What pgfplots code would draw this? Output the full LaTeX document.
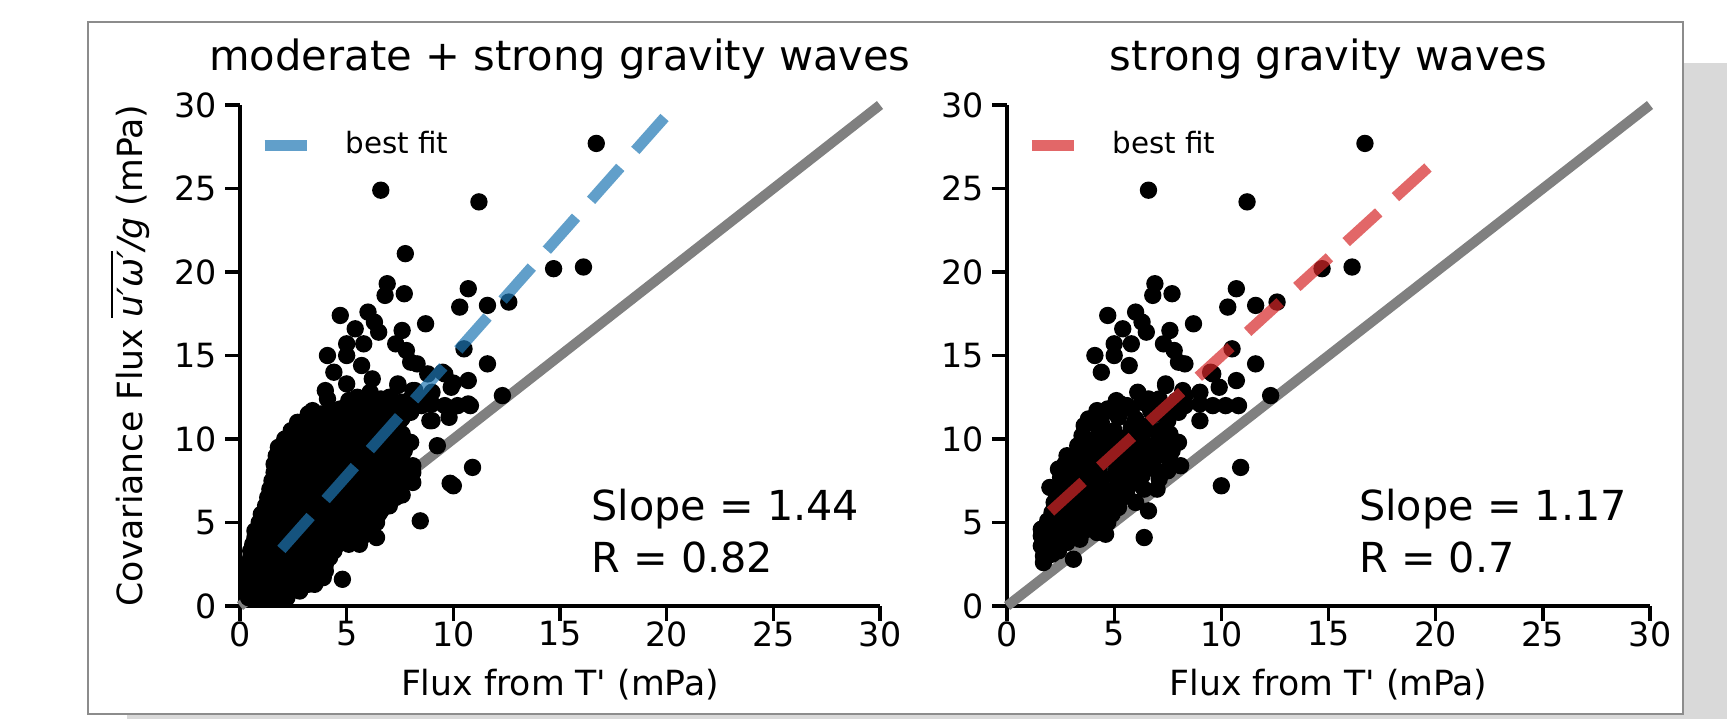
\documentclass[border=0pt]{standalone}
\usepackage{pgfplots}
\pgfplotsset{compat=1.18}
\usepackage{pgfplotstable}
\usepackage{fontspec}
\setmainfont{DejaVu Sans}

\definecolor{tabblue}{RGB}{31,119,180}
\definecolor{tabred}{RGB}{214,39,40}
\definecolor{shadowgray}{RGB}{217,217,217}
\definecolor{framegray}{RGB}{140,140,140}

% strong gravity wave events (shown in both panels)
\pgfplotstableread[row sep=\\]{
x y\\
16.7 27.7\\ 6.6 24.9\\ 11.2 24.2\\ 14.7 20.2\\ 16.1 20.3\\ 12.6 18.2\\
10.7 19.0\\ 10.3 17.9\\ 11.6 18.0\\ 6.9 19.3\\ 6.8 18.6\\ 7.7 18.7\\
4.7 17.4\\ 6.0 17.6\\ 6.3 17.0\\ 5.4 16.6\\ 6.5 16.4\\ 7.6 16.5\\ 8.7 16.9\\
5.0 15.7\\ 5.8 15.7\\ 7.3 15.7\\ 4.1 15.0\\ 5.0 15.0\\ 5.7 14.4\\ 4.4 14.0\\
7.8 15.3\\ 8.0 14.6\\ 8.3 14.5\\ 10.5 15.4\\ 11.6 14.5\\ 9.5 14.0\\ 10.7 13.5\\
9.9 13.1\\ 7.4 13.2\\ 9.0 12.8\\ 12.3 12.6\\ 8.3 12.6\\ 9.0 12.1\\ 9.6 12.0\\
10.2 12.0\\ 10.8 12.0\\ 8.3 12.0\\ 6.1 12.8\\ 6.6 12.4\\ 7.1 12.4\\ 5.1 12.3\\
4.7 11.8\\ 5.6 12.0\\ 9.0 11.1\\ 8.0 9.8\\ 10.0 7.2\\ 10.9 8.3\\ 6.4 4.1\\
6.6 5.7\\ 3.1 2.8\\ 1.7 2.6\\ 8.2 12.9\\ 9.6 13.9\\ 7.4 13.3\\
1.7 3.0\\ 2.1 3.1\\ 2.4 3.3\\
1.6 3.6\\ 2.0 3.7\\ 2.4 3.5\\ 2.8 3.8\\
1.6 4.2\\ 2.1 4.0\\ 2.5 4.3\\ 3.0 4.1\\ 3.4 4.0\\
1.6 4.6\\ 2.0 4.8\\ 2.6 4.6\\ 3.1 4.7\\ 3.6 4.5\\ 4.2 4.4\\ 4.6 4.3\\
1.9 5.1\\ 2.4 5.2\\ 2.9 5.0\\ 3.4 5.3\\ 4.0 5.1\\ 4.7 5.0\\ 5.2 5.9\\
2.1 5.6\\ 2.6 5.7\\ 3.2 5.5\\ 3.7 5.8\\ 4.3 5.6\\ 4.9 5.5\\
2.2 6.2\\ 2.8 6.0\\ 3.3 6.3\\ 3.9 6.1\\ 4.5 6.2\\ 5.3 6.4\\ 6.0 6.2\\
2.3 6.9\\ 2.9 6.6\\ 3.5 6.8\\ 4.1 6.6\\ 4.8 6.7\\ 5.6 6.6\\
2.0 7.1\\ 2.7 7.3\\ 3.2 7.1\\ 3.8 7.4\\ 4.4 7.2\\ 5.1 7.1\\ 5.8 7.3\\ 6.4 7.0\\ 7.0 7.0\\
2.5 7.7\\ 3.1 7.6\\ 3.7 7.9\\ 4.3 7.7\\ 5.0 7.8\\ 5.7 7.6\\ 6.3 7.8\\ 7.1 7.6\\
2.4 8.2\\ 3.0 8.1\\ 3.6 8.3\\ 4.3 8.2\\ 5.1 8.1\\ 5.6 8.3\\ 6.2 8.0\\ 6.9 8.2\\ 7.5 8.1\\ 8.1 8.4\\
2.7 8.5\\ 3.4 8.7\\ 4.0 8.6\\ 4.7 8.8\\ 5.4 8.6\\ 6.1 8.7\\ 6.8 8.5\\ 7.6 8.7\\
2.8 9.0\\ 3.6 9.2\\ 4.2 9.0\\ 4.9 9.3\\ 5.6 9.1\\ 6.3 9.2\\ 7.0 9.0\\ 7.7 9.3\\
3.3 9.6\\ 4.0 9.8\\ 4.6 9.5\\ 5.3 9.7\\ 6.0 9.9\\ 6.8 9.6\\ 7.4 9.7\\
3.5 10.2\\ 4.1 10.0\\ 4.8 10.3\\ 5.6 10.1\\ 6.3 10.2\\ 7.0 10.4\\ 7.6 10.3\\
3.6 10.8\\ 4.3 10.6\\ 5.0 10.5\\ 5.8 10.7\\ 6.6 10.8\\ 7.3 10.6\\
3.8 11.2\\ 4.4 11.0\\ 5.2 11.3\\ 6.0 11.2\\ 6.8 11.4\\ 7.5 11.1\\
4.2 11.7\\ 5.0 11.6\\ 5.8 11.8\\ 6.7 11.7\\ 7.4 11.9\\ 8.0 11.6\\
5.3 12.1\\ 6.3 12.2\\ 7.2 12.0\\ 7.9 12.3\\
}\strongpts

% moderate gravity wave events (left panel only)
\pgfplotstableread[row sep=\\]{
x y\\
7.75 21.1\\ 9.25 9.6\\ 8.45 5.1\\ 4.8 1.6\\ 3.4 11.7\\ 4.1 12.4\\ 4.0 12.9\\
5.0 13.3\\ 6.2 13.6\\ 8.8 13.9\\ 9.8 11.3\\ 8.1 12.9\\ 8.9 11.1\\ 7.6 11.25\\
5.5 12.5\\ 6.0 12.4\\ 6.5 12.3\\ 7.0 12.5\\ 7.6 12.2\\ 8.0 12.3\\ 8.5 12.0\\
8.7 12.1\\ 8.1 7.4\\ 7.6 6.65\\ 9.85 7.35\\ 8.1 8.0\\ 10.0 13.35\\ 10.7 12.1\\
0.4 0.5\\ 0.7 0.5\\ 1.0 0.5\\ 1.3 0.5\\ 1.6 0.5\\ 1.9 0.5\\ 2.2 0.5\\
0.4 0.9\\ 0.7 0.9\\ 1.0 0.9\\ 1.3 0.9\\ 1.6 0.9\\ 2.0 0.9\\ 2.4 0.9\\ 2.8 0.9\\
0.4 1.3\\ 0.8 1.3\\ 1.2 1.3\\ 1.6 1.3\\ 2.0 1.3\\ 2.4 1.3\\ 2.8 1.3\\ 3.2 1.3\\ 3.5 1.3\\
0.4 1.7\\ 0.8 1.7\\ 1.2 1.7\\ 1.6 1.7\\ 2.0 1.7\\ 2.4 1.7\\ 2.8 1.7\\ 3.2 1.7\\ 3.6 1.7\\ 3.9 1.7\\
0.4 2.1\\ 0.8 2.1\\ 1.2 2.1\\ 1.6 2.1\\ 2.0 2.1\\ 2.4 2.1\\ 2.8 2.1\\ 3.2 2.1\\ 3.6 2.1\\ 4.0 2.1\\
0.4 2.5\\ 0.8 2.5\\ 1.2 2.5\\ 1.6 2.5\\ 2.0 2.5\\ 2.5 2.5\\ 3.0 2.5\\ 3.5 2.5\\ 4.0 2.5\\
0.5 2.9\\ 0.9 2.9\\ 1.3 2.9\\ 1.8 2.9\\ 2.3 2.9\\ 2.8 2.9\\ 3.3 2.9\\ 3.8 2.9\\ 4.2 2.9\\
0.5 3.3\\ 1.0 3.3\\ 1.4 3.3\\ 1.9 3.3\\ 2.4 3.3\\ 2.9 3.3\\ 3.4 3.3\\ 3.9 3.3\\ 4.4 3.3\\
0.6 3.7\\ 1.1 3.7\\ 1.6 3.7\\ 2.1 3.7\\ 2.6 3.7\\ 3.1 3.7\\ 3.6 3.7\\ 4.1 3.7\\ 4.6 3.7\\ 5.1 3.7\\ 5.6 3.7\\
0.7 4.1\\ 1.2 4.1\\ 1.7 4.1\\ 2.2 4.1\\ 2.7 4.1\\ 3.2 4.1\\ 3.7 4.1\\ 4.2 4.1\\ 4.7 4.1\\ 5.2 4.1\\ 5.7 4.1\\
0.7 4.5\\ 1.2 4.5\\ 1.7 4.5\\ 2.2 4.5\\ 2.7 4.5\\ 3.2 4.5\\ 3.7 4.5\\ 4.2 4.5\\ 4.7 4.5\\ 5.2 4.5\\ 5.7 4.5\\ 6.0 4.5\\
0.9 5.0\\ 1.4 5.0\\ 1.9 5.0\\ 2.4 5.0\\ 2.9 5.0\\ 3.4 5.0\\ 3.9 5.0\\ 4.4 5.0\\ 4.9 5.0\\ 5.4 5.0\\ 5.9 5.0\\ 6.4 5.0\\
1.0 5.5\\ 1.5 5.5\\ 2.0 5.5\\ 2.5 5.5\\ 3.0 5.5\\ 3.5 5.5\\ 4.0 5.5\\ 4.5 5.5\\ 5.0 5.5\\ 5.5 5.5\\ 6.0 5.5\\ 6.5 5.5\\
1.2 6.0\\ 1.7 6.0\\ 2.2 6.0\\ 2.7 6.0\\ 3.2 6.0\\ 3.7 6.0\\ 4.2 6.0\\ 4.7 6.0\\ 5.2 6.0\\ 5.7 6.0\\ 6.2 6.0\\ 6.7 6.0\\ 7.0 6.0\\
1.3 6.5\\ 1.8 6.5\\ 2.3 6.5\\ 2.8 6.5\\ 3.3 6.5\\ 3.8 6.5\\ 4.3 6.5\\ 4.8 6.5\\ 5.3 6.5\\ 5.8 6.5\\ 6.3 6.5\\ 6.8 6.5\\ 7.3 6.5\\
1.4 7.0\\ 1.9 7.0\\ 2.4 7.0\\ 2.9 7.0\\ 3.4 7.0\\ 3.9 7.0\\ 4.4 7.0\\ 4.9 7.0\\ 5.4 7.0\\ 5.9 7.0\\ 6.4 7.0\\ 6.9 7.0\\ 7.5 7.0\\
1.5 7.5\\ 2.0 7.5\\ 2.5 7.5\\ 3.0 7.5\\ 3.5 7.5\\ 4.0 7.5\\ 4.5 7.5\\ 5.0 7.5\\ 5.5 7.5\\ 6.0 7.5\\ 6.5 7.5\\ 7.0 7.5\\ 7.6 7.5\\
1.6 8.0\\ 2.1 8.0\\ 2.6 8.0\\ 3.1 8.0\\ 3.6 8.0\\ 4.1 8.0\\ 4.6 8.0\\ 5.1 8.0\\ 5.6 8.0\\ 6.1 8.0\\ 6.6 8.0\\ 7.1 8.0\\ 7.6 8.0\\
1.6 8.5\\ 2.1 8.5\\ 2.6 8.5\\ 3.1 8.5\\ 3.6 8.5\\ 4.1 8.5\\ 4.6 8.5\\ 5.1 8.5\\ 5.6 8.5\\ 6.1 8.5\\ 6.6 8.5\\ 7.1 8.5\\ 7.7 8.5\\
1.7 9.0\\ 2.2 9.0\\ 2.7 9.0\\ 3.2 9.0\\ 3.7 9.0\\ 4.2 9.0\\ 4.7 9.0\\ 5.2 9.0\\ 5.7 9.0\\ 6.2 9.0\\ 6.7 9.0\\ 7.3 9.0\\
1.8 9.5\\ 2.3 9.5\\ 2.9 9.5\\ 3.5 9.5\\ 4.0 9.5\\ 4.5 9.5\\ 5.0 9.5\\ 5.5 9.5\\ 6.0 9.5\\ 6.5 9.5\\ 7.0 9.5\\ 7.5 9.5\\
2.1 10.0\\ 2.7 10.0\\ 3.3 10.0\\ 3.9 10.0\\ 4.5 10.0\\ 5.1 10.0\\ 5.7 10.0\\ 6.3 10.0\\ 6.9 10.0\\ 7.5 10.0\\
2.4 10.5\\ 3.0 10.5\\ 3.6 10.5\\ 4.2 10.5\\ 4.8 10.5\\ 5.4 10.5\\ 6.0 10.5\\ 6.6 10.5\\ 7.2 10.5\\
2.7 11.0\\ 3.3 11.0\\ 3.9 11.0\\ 4.5 11.0\\ 5.1 11.0\\ 5.7 11.0\\ 6.3 11.0\\ 6.9 11.0\\
3.2 11.5\\ 3.8 11.5\\ 4.4 11.5\\ 5.0 11.5\\ 5.6 11.5\\ 6.2 11.5\\ 6.8 11.5\\
}\moderatepts

\tikzset{annot/.style={anchor=base west, inner sep=0pt, font=\fontsize{12.4}{14}\selectfont}}

\pgfplotsset{
  fluxaxis/.style={
    scale only axis, height=150.3pt,
    xmin=0, xmax=30, ymin=0, ymax=30,
    axis x line*=bottom, axis y line*=left,
    axis line style={line width=1.2pt, black},
    xtick={0,5,...,30}, ytick={0,5,...,30},
    tick align=outside, major tick length=4.5pt,
    tick style={line width=1pt, black},
    ticklabel style={font=\fontsize{10}{12}\selectfont, inner sep=0pt},
    yticklabel style={xshift=-2.3pt},
    /pgf/number format/assume math mode=true,
    clip=false, clip marker paths=true,
    title style={font=\fontsize{12.5}{15}\selectfont, at={(axis description cs:0.5,1)}, anchor=base, yshift=4.5pt},
    xlabel={Flux from T\textquotesingle{} (mPa)},
    xlabel style={font=\fontsize{10.4}{12}\selectfont, at={(axis description cs:0.5,0)}, anchor=base, yshift=-26.7pt},
    legend style={draw=none, fill=none, inner sep=0pt, outer sep=0pt,
      font=\fontsize{8.8}{10}\selectfont, anchor=west},
  },
  dots/.style={only marks, mark=*, mark size=2.4pt, mark options={fill=black, draw=none}},
  diag/.style={draw=gray, line width=3pt},
  fit/.style={draw=#1, draw opacity=0.7, line width=3.3pt, dash pattern=on 13.2pt off 6.8pt,
    legend image code/.code={\draw[solid, draw=#1, draw opacity=0.7, line width=3.3pt] (0pt,0pt) -- (12.7pt,0pt); \path[draw=none] (0pt,0pt) -- (22.2pt,0pt);}},
}

\begin{document}
\begin{tikzpicture}
\useasboundingbox (0,0) rectangle (518.1pt,215.4pt);
\begin{scope}
  \clip (0,0) rectangle (518.1pt,215.4pt);
  \fill[shadowgray] (38.1pt,-12pt) rectangle (530.1pt,196.5pt);
\end{scope}
\filldraw[fill=white, draw=framegray, line width=0.4pt] (26.4pt,1.2pt) rectangle (504.9pt,208.8pt);

\begin{axis}[fluxaxis, at={(72pt,33.6pt)}, anchor=south west, width=192pt,
  title={moderate + strong gravity waves},
  ylabel={Covariance Flux $\overline{\mbox{\itshape u′ω′}}$\textit{/g} (mPa)},
  ylabel style={font=\fontsize{10.4}{12}\selectfont, at={(axis description cs:-0.153,0.5)}, anchor=base},
  legend style={at={(axis cs:0.9,27.6)}},
]
  \addplot[diag, forget plot] coordinates {(0,0) (30,30)};
  \addplot[dots, forget plot] table {\moderatepts};
  \addplot[dots, forget plot] table {\strongpts};
  \addplot[fit=tabblue] coordinates {(1.94,3.39) (19.96,29.34)};
  \addlegendentry{best fit}
  \node[annot] at (axis cs:16.45,5.1) {Slope = 1.44};
  \node[annot] at (axis cs:16.45,1.98) {R = 0.82};
\end{axis}

\begin{axis}[fluxaxis, at={(302.1pt,33.6pt)}, anchor=south west, width=192.9pt,
  title={strong gravity waves},
  legend style={at={(axis cs:0.9,27.6)}},
]
  \addplot[diag, forget plot] coordinates {(0,0) (30,30)};
  \addplot[dots, forget plot] table {\strongpts};
  \addplot[fit=tabred] coordinates {(2.03,5.66) (20.0,26.68)};
  \addlegendentry{best fit}
  \node[annot] at (axis cs:16.4,5.1) {Slope = 1.17};
  \node[annot] at (axis cs:16.4,1.98) {R = 0.7};
\end{axis}
\end{tikzpicture}
\end{document}
